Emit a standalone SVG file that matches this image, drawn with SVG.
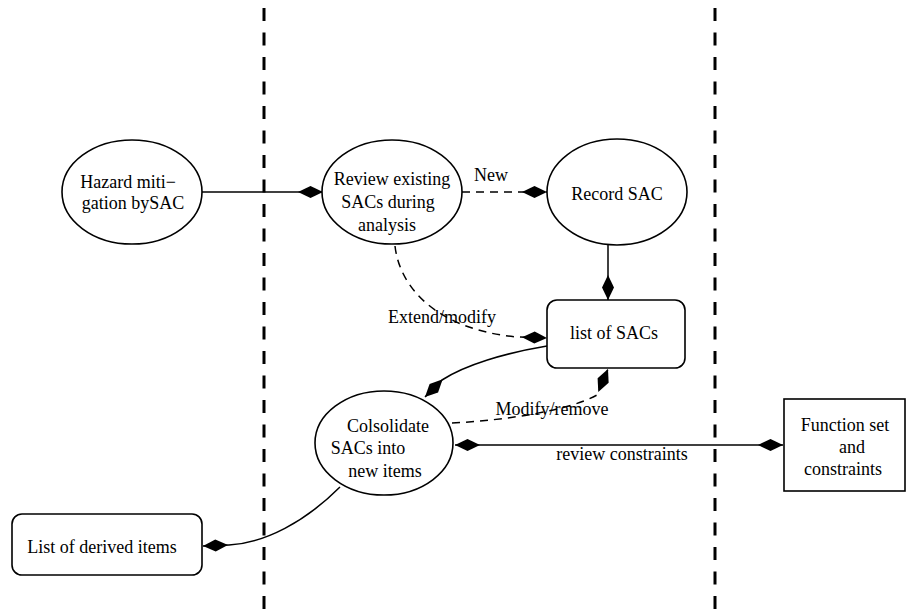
<svg xmlns="http://www.w3.org/2000/svg" width="906" height="610" viewBox="0 0 906 610">
<style>
  .node { fill: #ffffff; stroke: #000000; stroke-width: 1.6; }
  .lbl { font-family: "Liberation Serif", "Times New Roman", serif; font-size: 18px; fill: #000000; text-anchor: middle; }
  .edge { fill: none; stroke: #000000; stroke-width: 1.5; }
  .dash { stroke-dasharray: 8 6; }
  .lane { stroke: #000000; stroke-width: 3; stroke-dasharray: 13 11.5; fill: none; }
</style>
<defs>
  <marker id="dia" markerUnits="userSpaceOnUse" markerWidth="26" markerHeight="14" viewBox="0 -7 26 14" refX="25" refY="0" orient="auto-start-reverse">
    <path d="M0,0 L12.5,-6 L25,0 L12.5,6 Z" fill="#000000" stroke="none"/>
  </marker>
</defs>
<rect width="906" height="610" fill="#ffffff"/>
<g id="lanes">
  <line class="lane" x1="264" y1="8" x2="264" y2="610"/>
  <line class="lane" x1="715" y1="8" x2="715" y2="610"/>
</g>
<g id="connectors">
  <path class="edge" d="M202,192 L323,192" marker-end="url(#dia)"/>
  <path class="edge dash" d="M462,192 L547,192" marker-end="url(#dia)"/>
  <text class="lbl" x="491" y="181">New</text>
  <path class="edge" d="M608,245 L608,300" marker-end="url(#dia)"/>
  <path class="edge dash" d="M395,246 C400,290 440,330 517,337 L547,338" marker-end="url(#dia)"/>
  <text class="lbl" x="442" y="323">Extend/modify</text>
  <path class="edge" d="M547,346 C505,353 465,365 442,380 L425,397" marker-end="url(#dia)"/>
  <path class="edge dash" d="M452,423 C510,420 570,410 597,395 L608,369" marker-end="url(#dia)"/>
  <text class="lbl" x="552" y="415">Modify/remove</text>
  <path class="edge" d="M455,445 L783,445" marker-start="url(#dia)" marker-end="url(#dia)"/>
  <text class="lbl" x="622" y="460">review constraints</text>
  <path class="edge" d="M340,487 C305,522 265,543 229,545 L203,546" marker-end="url(#dia)"/>
</g>
<g id="hazard">
  <ellipse class="node" cx="132" cy="192" rx="70" ry="52"/>
  <text class="lbl" x="128" y="188">Hazard miti−</text>
  <text class="lbl" x="133" y="209">gation bySAC</text>
</g>
<g id="review">
  <ellipse class="node" cx="392" cy="192" rx="70" ry="52"/>
  <text class="lbl" x="392" y="185">Review existing</text>
  <text class="lbl" x="388" y="208">SACs during</text>
  <text class="lbl" x="387" y="231">analysis</text>
</g>
<g id="record">
  <ellipse class="node" cx="617" cy="192" rx="70" ry="53"/>
  <text class="lbl" x="617" y="200">Record SAC</text>
</g>
<g id="listsacs">
  <rect class="node" x="547" y="300" width="138" height="68" rx="10" ry="10"/>
  <text class="lbl" x="614" y="339">list of SACs</text>
</g>
<g id="consolidate">
  <ellipse class="node" cx="384" cy="443" rx="69" ry="52"/>
  <text class="lbl" x="388" y="432">Colsolidate</text>
  <text class="lbl" x="368" y="454">SACs into</text>
  <text class="lbl" x="385" y="477">new items</text>
</g>
<g id="functionset">
  <rect class="node" x="784" y="399" width="121" height="92"/>
  <text class="lbl" x="845" y="431">Function set</text>
  <text class="lbl" x="852" y="453">and</text>
  <text class="lbl" x="843" y="475">constraints</text>
</g>
<g id="derived">
  <rect class="node" x="12" y="514" width="190" height="61" rx="10" ry="10"/>
  <text class="lbl" x="102" y="553">List of derived items</text>
</g>
</svg>
